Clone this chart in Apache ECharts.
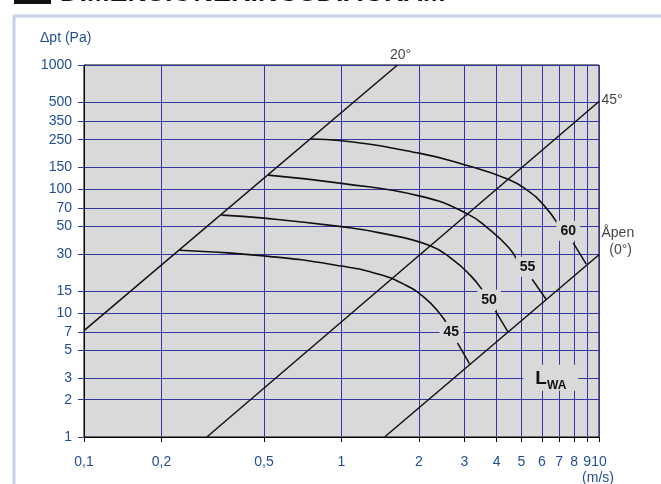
<!DOCTYPE html>
<html>
<head>
<meta charset="utf-8">
<script src="https://cdn.jsdelivr.net/npm/echarts@6/dist/echarts.min.js"></script>
<style>
  html, body { margin: 0; padding: 0; background: #fff; }
  #chart { width: 661px; height: 484px; }
</style>
</head>
<body>
<div id="chart"></div>
<script>
// Tick values of the two logarithmic axes
const xTicks = [0.1, 0.2, 0.5, 1, 2, 3, 4, 5, 6, 7, 8, 9, 10];
const yTicks = [1, 2, 3, 5, 7, 10, 15, 30, 50, 70, 100, 150, 250, 350, 500, 1000];

// Damper blade angle lines: [air velocity m/s, total pressure drop Pa]
const line20 = [[0.1, 7.2], [1.65, 1000]];
const line45 = [[0.3, 1], [10, 508]];
const line0 = [[1.47, 1], [10, 29.5]];

// Sound power level curves, LWA in dB
const lwaLevels = ['45', '50', '55', '60'];
const curve45 = [[0.235, 32.1], [0.5, 28.9], [1.0, 23.9], [1.41, 20.4], [1.77, 16.8], [2.11, 13.2], [2.42, 9.78], [2.57, 8.12]];
const curve50 = [[0.342, 61.6], [0.5, 58.2], [1.0, 49.7], [1.41, 44.3], [2.21, 34.9], [2.72, 26.7], [3.16, 20.2], [3.51, 15.5]];
const curve55 = [[0.519, 129.5], [1.0, 111], [2.02, 87.6], [3.07, 63.3], [3.78, 46.6], [4.46, 33.7], [4.81, 26.7]];
const curve60 = [[0.761, 252.8], [1.0, 244.9], [2.02, 193.8], [2.98, 157.9], [4.46, 119.5], [5.26, 98], [6.10, 74.1], [6.98, 51.1]];

// Short leaders from each level label down to the open-damper line
const lead45 = [[2.82, 5.74], [3.14, 3.91]];
const lead50 = [[3.96, 10.4], [4.43, 7.04]];
const lead55 = [[5.50, 18.7], [6.23, 12.9]];
const lead60 = [[7.94, 36.8], [8.92, 24.8]];

// Where the level numbers sit on their curves, and the LWA key
const levelLabelAt = [[2.67, 7.05], [3.74, 12.8], [5.28, 23.6], [7.59, 46.0]];
const lwaKeyAt = [6.5, 3];

const BLUE = '#1f4e96';
const GRID = '#3434a4';
const PLOT_BG = '#d9d9d9';
const FONT = '"Liberation Sans", Arial, Helvetica, sans-serif';

const chart = echarts.init(document.getElementById('chart'), null, { renderer: 'canvas' });

const clean = v => Number((+v).toPrecision(6));

function blackLine(name, data, width) {
  return {
    name, type: 'line', data, symbol: 'none', silent: true, z: 3,
    lineStyle: { color: '#111', width: width || 1.5 }
  };
}
function curve(name, data) {
  return Object.assign(blackLine(name, data, 1.6), { smooth: 0.5 });
}

const levelLabelStyle = {
  show: true, position: 'inside', color: '#111', fontFamily: FONT,
  fontSize: 14, fontWeight: 'bold', backgroundColor: PLOT_BG, padding: [3, 4],
  textBorderWidth: 0, borderWidth: 0, opacity: 1
};
const plainLabel = { show: true, color: '#111', fontFamily: FONT, fontSize: 14, textBorderWidth: 0 };

const notes = [
  { value: line20[1], label: Object.assign({}, plainLabel, { formatter: '20°', position: 'top', distance: 2, offset: [3, 0] }) },
  { value: line45[1], label: Object.assign({}, plainLabel, { formatter: '45°', position: 'right', distance: 2, offset: [0, -1] }) },
  { value: line0[1], label: Object.assign({}, plainLabel, { formatter: 'Åpen\n  (0°)', position: 'right', distance: 2, offset: [0, -13], lineHeight: 17 }) }
].concat(levelLabelAt.map((p, i) => ({
  value: p, label: Object.assign({}, levelLabelStyle, { formatter: lwaLevels[i] })
}))).concat([{
  value: lwaKeyAt,
  label: {
    show: true, position: 'inside', backgroundColor: PLOT_BG, padding: [3, 12],
    textBorderWidth: 0, borderWidth: 0, opacity: 1,
    formatter: '{l|L}{s|WA}',
    rich: {
      l: { fontFamily: FONT, fontSize: 19, fontWeight: 'bold', color: '#111', verticalAlign: 'bottom', lineHeight: 20 },
      s: { fontFamily: FONT, fontSize: 12, fontWeight: 'bold', color: '#111', verticalAlign: 'bottom', lineHeight: 12, padding: [0, 0, -4, 0] }
    }
  }
}]);

const option = {
  animation: false,
  backgroundColor: '#fff',
  grid: {
    left: 84, right: 62, top: 65, bottom: 47,
    show: true, backgroundColor: PLOT_BG, borderColor: '#000', borderWidth: 1
  },
  xAxis: {
    type: 'log', logBase: 10, min: 0.1, max: 10,
    axisLine: { show: true, lineStyle: { color: '#000', width: 1 } },
    axisTick: { show: true, inside: false, length: 5, customValues: xTicks, lineStyle: { color: '#000', width: 1 } },
    axisLabel: {
      customValues: xTicks, color: BLUE, fontFamily: FONT, fontSize: 14, margin: 18,
      formatter: v => String(clean(v)).replace('.', ',')
    },
    splitLine: { show: true, lineStyle: { color: GRID, width: 1 } },
    minorTick: { show: false }, minorSplitLine: { show: false }
  },
  yAxis: {
    type: 'log', logBase: 10, min: 1, max: 1000,
    axisLine: { show: true, lineStyle: { color: '#000', width: 1 } },
    axisTick: { show: true, inside: false, length: 6, customValues: yTicks, lineStyle: { color: '#1f3f8f', width: 1 } },
    axisLabel: {
      customValues: yTicks, color: BLUE, fontFamily: FONT, fontSize: 14, margin: 12,
      formatter: v => String(clean(v))
    },
    splitLine: { show: true, lineStyle: { color: GRID, width: 1 } },
    minorTick: { show: false }, minorSplitLine: { show: false }
  },
  graphic: [
    // panel frame
    { type: 'rect', silent: true, shape: { x: 14, y: 16, width: 700, height: 500 },
      style: { fill: 'none', stroke: '#c8d0ea', lineWidth: 3 } },
    // section heading, running off the top edge
    { type: 'rect', silent: true, shape: { x: 14, y: -20, width: 37, height: 24 }, style: { fill: '#111' } },
    { type: 'text', silent: true, x: 60, y: 7,
      style: { text: 'DIMENSIONERINGSDIAGRAM', fill: '#111', font: 'bold 27px ' + FONT, textVerticalAlign: 'bottom' } },
    // axis names
    { type: 'text', silent: true, x: 40, y: 38,
      style: { text: 'Δpt (Pa)', fill: BLUE, font: '14px ' + FONT, textVerticalAlign: 'middle' } },
    { type: 'text', silent: true, x: 598, y: 478,
      style: { text: '(m/s)', fill: BLUE, font: '14px ' + FONT, textAlign: 'center', textVerticalAlign: 'middle' } }
  ],
  series: [
    blackLine('20°', line20),
    blackLine('45°', line45),
    blackLine('0°', line0),
    curve('LWA 45', curve45),
    curve('LWA 50', curve50),
    curve('LWA 55', curve55),
    curve('LWA 60', curve60),
    blackLine('lead 45', lead45),
    blackLine('lead 50', lead50),
    blackLine('lead 55', lead55),
    blackLine('lead 60', lead60),
    {
      name: 'notes', type: 'scatter', data: notes, symbolSize: 1, clip: false, silent: true, z: 5,
      itemStyle: { color: 'rgba(0,0,0,0)' }
    }
  ]
};

chart.setOption(option);
</script>
</body>
</html>
